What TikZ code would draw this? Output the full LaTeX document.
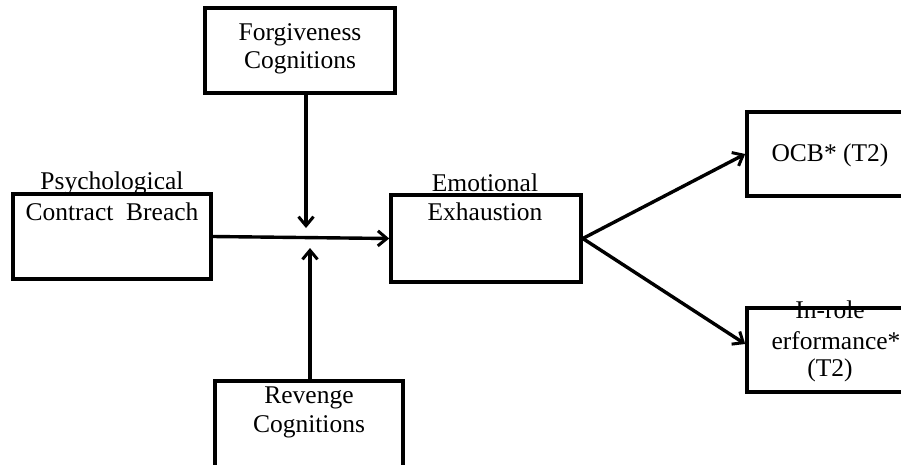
\documentclass[tikz,border=0pt]{standalone}
\usepackage{fontspec}
\setmainfont{Liberation Serif}
\usetikzlibrary{arrows.meta}
\tikzset{
  box/.style={draw=black, line width=3.6pt, minimum width=#1, inner sep=0pt},
  lbl/.style={inner sep=0pt, font=\fontsize{25.5}{29}\selectfont, align=center},
  conn/.style={line width=3.4pt, -{Straight Barb[length=9pt,width=15pt,line width=3pt]}}
}
\begin{document}
\begin{tikzpicture}[x=1pt,y=-1pt]
\useasboundingbox (0,0) rectangle (901,464);
\clip (0,0) rectangle (901,464);
% boxes
\node[box=198pt, minimum height=85pt] (psych) at (112,236.5) {};
\node[box=190pt, minimum height=87pt] (emo) at (486,238.5) {};
\node[box=190pt, minimum height=85pt] (forg) at (300,50.5) {};
\node[box=188pt, minimum height=88pt] (rev) at (309,425) {};
\node[box=166pt, minimum height=84pt] (ocb) at (830,154) {};
\node[box=166pt, minimum height=84pt] (inrole) at (830,350) {};
% labels
\node[lbl] (psychT1) at (112,183) {Psychological};
\node[lbl] (psychT2) at (112,212) {Contract\ \ Breach};
\node[lbl] (emoT1) at (485,183) {Emotional};
\node[lbl] (emoT2) at (485,212) {Exhaustion};
\node[lbl] (forgT1) at (300,35) {Forgiveness};
\node[lbl] (forgT2) at (300,63) {Cognitions};
\node[lbl] (revT1) at (309,398) {Revenge};
\node[lbl] (revT2) at (309,427) {Cognitions};
\node[lbl] (ocbT) at (830,155) {OCB* (T2)};
\node[lbl] (inT1) at (830,310) {In-role};
\node[lbl] (inT2) at (836,341) {erformance*};
\node[lbl] (inT3) at (830,370) {(T2)};
% junction points
\coordinate (jtop) at (306,228);
\coordinate (jbot) at (310,248);
% connectors
\draw[conn] (psych.east) -- (emo.west);
\draw[conn] (forg.south -| jtop) -- (jtop);
\draw[conn] (rev.north -| jbot) -- (jbot);
\draw[conn] (emo.east) -- (ocb.west);
\draw[conn] (emo.east) -- ([yshift=6pt]inrole.west);
\end{tikzpicture}
\end{document}
